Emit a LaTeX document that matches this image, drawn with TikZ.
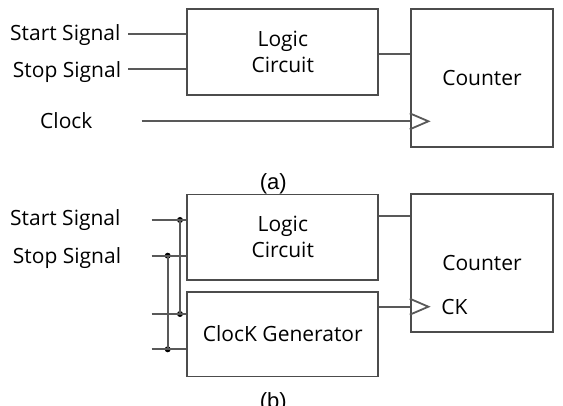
\documentclass[tikz,border=0pt]{standalone}
\usepackage{fontspec}
\setmainfont{Open Sans}
\newfontfamily\capfont{Liberation Sans}
\usetikzlibrary{positioning}

\begin{document}
\begin{tikzpicture}[%
x={(1pt,0pt)},
y={(0pt,-1pt)},
font=\fontsize{21}{26}\selectfont,
box/.style={draw=black!70,line width=1.8pt,inner sep=0pt,align=center},
wire/.style={draw=black!65,line width=1.8pt},
sig/.style={inner sep=0pt,anchor=base west},
dot/.style={circle,fill=black,inner sep=0pt,minimum size=6pt},
]
\useasboundingbox (0,0) rectangle (563,406);

%Bloecke (a)
\node[box,minimum width=191pt,minimum height=85.7pt](logicA) at (282.8,52.2){Logic\\Circuit};
\node[box,minimum width=142.6pt,minimum height=138pt](counterA) at (482,78.3){Counter};

%Eingaenge (a)
\node[sig](startA) at (10,40.7){Start Signal};
\node[sig](stopA) at (12.7,77.3){Stop Signal};
\node[sig](clockA) at (40,128.3){Clock};
\coordinate (sA) at (128,34);
\coordinate (pA) at (128,69.3);
\coordinate (cA) at (141.7,121.3);

\draw[wire] (sA) -- (sA -| logicA.west);
\draw[wire] (pA) -- (pA -| logicA.west);
\draw[wire] (cA) -- (cA -| counterA.west);
\draw[wire] (cA -| counterA.west) ++(0,-8) -- ++(18.6,8) -- ++(-18.6,8);
\draw[wire] ([yshift=-2pt]logicA.east) -- ([yshift=-2pt]logicA.east -| counterA.west);

\node[font=\capfont\fontsize{22}{26}\selectfont](capA) at (273.3,183.5){(a)};

%Bloecke (b)
\node[box,minimum width=191pt,minimum height=85.5pt](logicB) at (282.8,237.3){Logic\\Circuit};
\node[box,minimum width=191pt,minimum height=84.8pt](clkgen) at (282.8,334.1){ClocK Generator};
\node[box,minimum width=142.6pt,minimum height=138.3pt](counterB) at (482,263.2){Counter};
\node[inner sep=0pt](ck) at (454.5,306.7){CK};

%Eingaenge (b)
\node[sig](startB) at (10,225.7){Start Signal};
\node[sig](stopB) at (12.7,264){Stop Signal};
\coordinate (sB) at (151.7,220);
\coordinate (pB) at (151.7,255.7);
\coordinate (sC) at (151.7,314);
\coordinate (pC) at (151.7,349.3);

\node[dot](d1) at (180,220){};
\node[dot](d2) at (167.7,255.7){};
\node[dot](d3) at (180,314){};
\node[dot](d4) at (167.7,349.3){};

\draw[wire] (sB) -- (sB -| logicB.west);
\draw[wire] (pB) -- (pB -| logicB.west);
\draw[wire] (sC) -- (sC -| clkgen.west);
\draw[wire] (pC) -- (pC -| clkgen.west);
\draw[wire] (d1.center) -- (d3.center);
\draw[wire] (d2.center) -- (d4.center);

\draw[wire] ([yshift=21.3pt]logicB.east) -- ([yshift=21.3pt]logicB.east -| counterB.west);
\draw[wire] ([yshift=27.4pt]clkgen.east) -- ([yshift=27.4pt]clkgen.east -| counterB.west);
\draw[wire] ([yshift=27.4pt]clkgen.east -| counterB.west) ++(0,-8) -- ++(18.6,8) -- ++(-18.6,8);

\node[font=\capfont\fontsize{22}{26}\selectfont](capB) at (273.3,403){(b)};

\end{tikzpicture}
\end{document}
